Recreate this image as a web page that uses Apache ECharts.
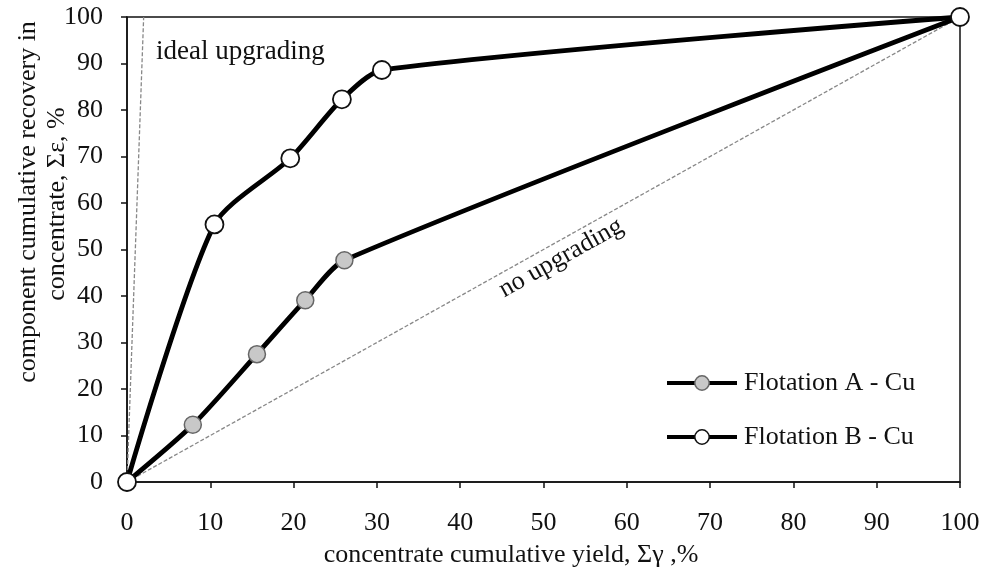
<!DOCTYPE html>
<html><head><meta charset="utf-8">
<script src="https://cdn.jsdelivr.net/npm/echarts@6/dist/echarts.min.js"></script>
<style>html,body{margin:0;padding:0;background:#fff}#c{width:989px;height:571px}</style>
</head><body><div id="c"></div>
<script>
var yieldA = [0, 7.9, 15.6, 21.4, 26.1, 100];
var recA   = [0, 12.3, 27.5, 39.1, 47.7, 100];
var yieldB = [0, 10.5, 19.6, 25.8, 30.6, 100];
var recB   = [0, 55.4, 69.6, 82.3, 88.6, 100];
var idealLine = [[0, 0], [2, 100]];
var noUpLine = [[0, 0], [100, 100]];
var xTicks = [0, 10, 20, 30, 40, 50, 60, 70, 80, 90, 100];
var yTicks = [0, 10, 20, 30, 40, 50, 60, 70, 80, 90, 100];

function pairs(xs, ys){ return xs.map(function(x,i){return [x, ys[i]];}); }
var font = '"Liberation Serif", "Times New Roman", serif';
var chart = echarts.init(document.getElementById('c'));
chart.setOption({
  animation:false,
  backgroundColor:'#fff',
  grid:{left:127, right:29, top:17, bottom:89, show:true, borderColor:'#111', borderWidth:1.5, backgroundColor:'transparent'},
  xAxis:{type:'value', min:0, max:100, interval:10,
    axisLine:{show:true, lineStyle:{color:'#111', width:1.5}},
    axisTick:{show:true, inside:false, length:6, lineStyle:{color:'#111', width:1.5}},
    splitLine:{show:false},
    axisLabel:{color:'#111', fontFamily:font, fontSize:26, margin:28,
      formatter:function(v){return xTicks.indexOf(v)>=0? String(v):'';}}
  },
  yAxis:{type:'value', min:0, max:100, interval:10,
    axisLine:{show:true, lineStyle:{color:'#111', width:1.5}},
    axisTick:{show:true, inside:false, length:6, lineStyle:{color:'#111', width:1.5}},
    splitLine:{show:false},
    axisLabel:{color:'#111', fontFamily:font, fontSize:26, margin:24,
      formatter:function(v){return yTicks.indexOf(v)>=0? String(v):'';}}
  },
  legend:{orient:'vertical', left:660, top:365, itemGap:28, itemWidth:70, itemHeight:18,
    lineStyle:{width:4, color:'#000'},
    itemStyle:{borderWidth:1.5},
    textStyle:{color:'#111', fontFamily:font, fontSize:26, padding:[0,0,0,2]},
    data:['Flotation A - Cu','Flotation B - Cu']},
  series:[
    {type:'line', data:idealLine, symbol:'none', silent:true,
      lineStyle:{color:'#888', width:1.3, type:[4,2]}, z:1},
    {type:'line', data:noUpLine, symbol:'none', silent:true,
      lineStyle:{color:'#888', width:1.3, type:[4,2]}, z:1},
    {name:'Flotation A - Cu', type:'line', data:pairs(yieldA, recA), smooth:0.25,
      symbol:'circle', symbolSize:17,
      itemStyle:{color:'#c8c8c8', borderColor:'#666', borderWidth:1.5},
      lineStyle:{color:'#000', width:4.8}, z:3},
    {name:'Flotation B - Cu', type:'line', data:pairs(yieldB, recB), smooth:0.25,
      symbol:'circle', symbolSize:18,
      itemStyle:{color:'#fff', borderColor:'#111', borderWidth:1.8},
      lineStyle:{color:'#000', width:4.8}, z:4}
  ],
  graphic:[
    {type:'text', x:156, y:52, style:{text:'ideal upgrading', font:'27px '+font, fill:'#111', verticalAlign:'middle'}},
    {type:'text', x:561, y:258, rotation:29.2*Math.PI/180,
      style:{text:'no upgrading', font:'26px '+font, fill:'#111', align:'center', verticalAlign:'middle'}},
    {type:'text', x:28, y:202, rotation:Math.PI/2,
      style:{text:'component cumulative recovery in', font:'26px '+font, fill:'#111', align:'center', verticalAlign:'middle'}},
    {type:'text', x:57, y:204, rotation:Math.PI/2,
      style:{text:'concentrate, \u03A3\u03B5, %', font:'26px '+font, fill:'#111', align:'center', verticalAlign:'middle'}},
    {type:'text', x:511, y:555,
      style:{text:'concentrate cumulative yield, \u03A3\u03B3 ,%', font:'26px '+font, fill:'#111', align:'center', verticalAlign:'middle'}}
  ]
});
</script></body></html>
